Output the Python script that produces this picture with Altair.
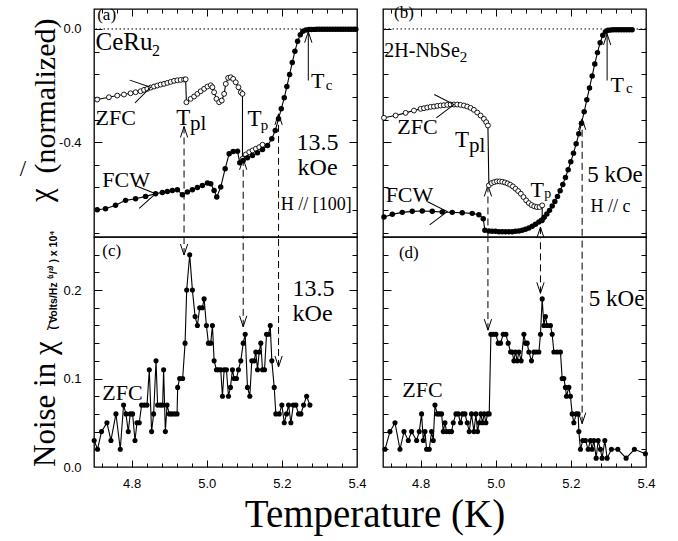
import altair as alt
import pandas as pd

SERIF = "Liberation Serif"
SANS = "Liberation Sans"

# ------------------------------------------------------------------
# Values
# ------------------------------------------------------------------
# (a) CeRu2, 13.5 kOe : chi' (normalized), ZFC (open circles)
a_zfc_T = [4.7085, 4.7397, 4.7619, 4.7797, 4.7973, 4.8107, 4.8240, 4.8331, 4.8419, 4.8507, 4.8597,
           4.8685, 4.8773, 4.8864, 4.8952, 4.9040, 4.9131, 4.9219, 4.9307, 4.9397, 4.9440,
           4.9459, 4.9573, 4.9664, 4.9752, 4.9840, 4.9931, 5.0019, 5.0107, 5.0152, 5.0197, 5.0259,
           5.0331, 5.0400, 5.0464, 5.0507, 5.0571, 5.0640, 5.0704, 5.0773, 5.0845, 5.0907, 5.0952,
           5.0952, 5.1040, 5.1131, 5.1219, 5.1307, 5.1397, 5.1485]
a_zfc_chi = [-0.2494, -0.2413, -0.2353, -0.2317, -0.2272, -0.2236, -0.2201, -0.2152, -0.2116, -0.2071, -0.2035,
             -0.2000, -0.1965, -0.1940, -0.1905, -0.1870, -0.1834, -0.1813, -0.1799, -0.1788, -0.1778,
             -0.2589, -0.2469, -0.2388, -0.2293, -0.2201, -0.2116, -0.2035, -0.1989, -0.2060, -0.2236, -0.2469,
             -0.2589, -0.2529, -0.2293, -0.1940, -0.1728, -0.1707, -0.1764, -0.1884, -0.2060, -0.2236, -0.2293,
             -0.4586, -0.4434, -0.4353, -0.4293, -0.4233, -0.4176, -0.4092]
# (a) FCW (filled circles)
a_fcw_T = [4.7085, 4.7307, 4.7573, 4.7840, 4.8107, 4.8373, 4.8640, 4.8819, 4.8952, 4.9085, 4.9219,
           4.9352, 4.9485, 4.9619, 4.9752, 4.9885, 5.0019, 5.0107, 5.0197, 5.0267, 5.0373, 5.0491,
           5.0597, 5.0704, 5.0819, 5.0880, 5.0971, 5.1085, 5.1219, 5.1352, 5.1485, 5.1619, 5.1733,
           5.1824, 5.1912, 5.1984, 5.2064, 5.2133, 5.2205, 5.2277, 5.2347, 5.2419, 5.2491, 5.2560,
           5.2640, 5.2720, 5.2790, 5.2860, 5.2930, 5.3000, 5.3070, 5.3140, 5.3210, 5.3280, 5.3350,
           5.3420, 5.3490, 5.3560, 5.3630, 5.3700, 5.3770, 5.3840, 5.3910, 5.3970]
a_fcw_chi = [-0.6385, -0.6350, -0.6230, -0.6056, -0.5997, -0.5915, -0.5820, -0.5774, -0.5739, -0.5704, -0.5680,
             -0.5855, -0.5764, -0.5680, -0.5598, -0.5527, -0.5446, -0.5467, -0.5704, -0.5940, -0.5587, -0.4938,
             -0.4409, -0.4328, -0.4317, -0.4727, -0.4645, -0.4550, -0.4469, -0.4374, -0.4257, -0.4116, -0.3880,
             -0.3587, -0.3175, -0.2822, -0.2434, -0.2035, -0.1612, -0.1189, -0.0790, -0.0437, -0.0201, -0.0085,
             -0.0035, -0.0022, -0.0018, -0.0015, -0.0014, -0.0013, -0.0012, -0.0012, -0.0011, -0.0011, -0.0010,
             -0.0010, -0.0010, -0.0010, -0.0010, -0.0010, -0.0010, -0.0010, -0.0010, -0.0010]

# (b) 2H-NbSe2, 5 kOe : ZFC
b_zfc_T = [4.7026, 4.7336, 4.7602, 4.7824,
           4.8001, 4.8090, 4.8178, 4.8267, 4.8356, 4.8444, 4.8533, 4.8621, 4.8710, 4.8799, 4.8887,
           4.8976, 4.9065, 4.9153, 4.9242, 4.9331, 4.9419, 4.9508, 4.9597, 4.9685, 4.9747, 4.9792,
           4.9818, 4.9889, 4.9960, 5.0031, 5.0102, 5.0173, 5.0244, 5.0315, 5.0386, 5.0457, 5.0527,
           5.0598, 5.0669, 5.0740, 5.0811, 5.0882, 5.0953, 5.1024, 5.1095, 5.1166, 5.1237, 5.1237]
b_zfc_chi = [-0.3140, -0.3058, -0.2964, -0.2882,
             -0.2823, -0.2800, -0.2776, -0.2752, -0.2741, -0.2717, -0.2705, -0.2694, -0.2682, -0.2670, -0.2670,
             -0.2670, -0.2682, -0.2705, -0.2741, -0.2788, -0.2858, -0.2952, -0.3058, -0.3176, -0.3293, -0.3411,
             -0.5527, -0.5445, -0.5410, -0.5386, -0.5386, -0.5398, -0.5422, -0.5457, -0.5504, -0.5563, -0.5645,
             -0.5727, -0.5821, -0.5939, -0.6056, -0.6151, -0.6221, -0.6268, -0.6292, -0.6292, -0.6233, -0.6762]
# (b) FCW
b_fcw_T = [4.7026, 4.7247, 4.7513, 4.7779, 4.8045, 4.8311, 4.8577, 4.8843, 4.9109, 4.9375, 4.9552,
           4.9668, 4.9712, 4.9818, 4.9907, 4.9996, 5.0084, 5.0173, 5.0261, 5.0350, 5.0439, 5.0527,
           5.0616, 5.0705, 5.0793, 5.0882, 5.0971, 5.1059, 5.1148, 5.1219, 5.1290, 5.1361, 5.1432,
           5.1503, 5.1574, 5.1644, 5.1715, 5.1786, 5.1857, 5.1928, 5.1999, 5.2070, 5.2141, 5.2212,
           5.2283, 5.2354, 5.2425, 5.2496, 5.2567, 5.2637, 5.2708, 5.2779, 5.2850, 5.2921, 5.2992,
           5.3063, 5.3134, 5.3205, 5.3276, 5.3347, 5.3418, 5.3489, 5.3560, 5.3631]
b_fcw_chi = [-0.6646, -0.6550, -0.6480, -0.6444, -0.6433, -0.6444, -0.6468, -0.6480, -0.6491, -0.6515, -0.6562,
             -0.6703, -0.7115, -0.7138, -0.7150, -0.7150, -0.7162, -0.7162, -0.7162, -0.7162, -0.7162, -0.7150,
             -0.7138, -0.7115, -0.7079, -0.7032, -0.6974, -0.6903, -0.6821, -0.6762, -0.6656, -0.6539, -0.6409,
             -0.6256, -0.6092, -0.5915, -0.5715, -0.5492, -0.5245, -0.4975, -0.4692, -0.4387, -0.4058, -0.3705,
             -0.3329, -0.2929, -0.2505, -0.2082, -0.1659, -0.1236, -0.0836, -0.0483, -0.0225, -0.0095, -0.0048,
             -0.0035, -0.0030, -0.0030, -0.0030, -0.0030, -0.0030, -0.0030, -0.0030, -0.0030]

# (c) CeRu2 noise, ZFC
c_T = [4.7005, 4.7094, 4.7200, 4.7344, 4.7451, 4.7584, 4.7699, 4.7787, 4.7851, 4.7912,
       4.7965, 4.8027, 4.8091, 4.8144, 4.8205, 4.8267, 4.8339, 4.8411, 4.8472, 4.8533,
       4.8587, 4.8651, 4.8693, 4.8765, 4.8827, 4.8853, 4.8899, 4.8944, 4.9005, 4.9067,
       4.9139, 4.9211, 4.9227, 4.9280, 4.9360, 4.9424,
       4.9467, 4.9547, 4.9619, 4.9691, 4.9752, 4.9813, 4.9885, 4.9931, 4.9992, 5.0045,
       5.0107, 5.0152, 5.0197, 5.0259, 5.0312, 5.0373, 5.0419, 5.0464, 5.0525, 5.0579,
       5.0632, 5.0685, 5.0731, 5.0792, 5.0845, 5.0907, 5.0971, 5.1024, 5.1085, 5.1147,
       5.1200, 5.1264, 5.1307, 5.1352, 5.1397, 5.1440, 5.1485, 5.1539, 5.1592, 5.1645,
       5.1691, 5.1733, 5.1797, 5.1840, 5.1931, 5.2000, 5.2064, 5.2125, 5.2179, 5.2240,
       5.2304, 5.2373, 5.2445, 5.2507, 5.2579, 5.2659, 5.2747]
c_noise = [0.03, 0.02, 0.04, 0.05, 0.03, 0.06, 0.02, 0.07, 0.06, 0.04,
           0.06, 0.06, 0.03, 0.05, 0.05, 0.07, 0.07, 0.07, 0.11, 0.04,
           0.06, 0.12, 0.07, 0.07, 0.07, 0.11, 0.04, 0.07, 0.06, 0.06,
           0.06, 0.06, 0.09, 0.10, 0.10, 0.14,
           0.20, 0.24, 0.20, 0.17, 0.16, 0.18, 0.18, 0.19, 0.16, 0.14,
           0.14, 0.16, 0.12, 0.11, 0.11, 0.11, 0.08, 0.11, 0.11, 0.08,
           0.09, 0.11, 0.10, 0.10, 0.11, 0.12, 0.14, 0.15, 0.09, 0.08,
           0.12, 0.12, 0.13, 0.11, 0.13, 0.14, 0.11, 0.11, 0.15, 0.15,
           0.16, 0.12, 0.09, 0.06, 0.06, 0.07, 0.05, 0.06, 0.07, 0.05,
           0.07, 0.07, 0.06, 0.06, 0.07, 0.08, 0.07]

# (d) 2H-NbSe2 noise, ZFC
d_T = [4.7053, 4.7186, 4.7319, 4.7452, 4.7559, 4.7673, 4.7761, 4.7894, 4.7965, 4.8027,
       4.8072, 4.8117, 4.8160, 4.8231, 4.8293, 4.8338, 4.8383, 4.8444, 4.8497, 4.8559,
       4.8604, 4.8649, 4.8691, 4.8763, 4.8824, 4.8870, 4.8941, 4.9003, 4.9064, 4.9117,
       4.9181, 4.9242, 4.9295, 4.9356, 4.9420, 4.9473, 4.9516, 4.9561, 4.9606, 4.9649,
       4.9694, 4.9739, 4.9782, 4.9827,
       4.9872, 4.9934, 5.0005, 5.0066, 5.0128, 5.0200, 5.0271, 5.0332, 5.0394, 5.0439,
       5.0484, 5.0527, 5.0572, 5.0617, 5.0678, 5.0750, 5.0793, 5.0838, 5.0883, 5.0952,
       5.1016, 5.1077, 5.1149, 5.1191, 5.1237, 5.1282, 5.1324, 5.1370, 5.1457, 5.1503,
       5.1548, 5.1636, 5.1723, 5.1769, 5.1814, 5.1856, 5.1883, 5.1947, 5.1989, 5.2035,
       5.2080, 5.2141, 5.2194, 5.2213, 5.2255, 5.2319, 5.2388, 5.2460, 5.2521, 5.2566,
       5.2612, 5.2673, 5.2726, 5.2787, 5.2832, 5.2904, 5.2965, 5.3080, 5.3250, 5.3471,
       5.3692, 5.3984]
d_noise = [0.02, 0.04, 0.05, 0.02, 0.04, 0.03, 0.04, 0.03, 0.04, 0.06,
           0.03, 0.04, 0.02, 0.02, 0.04, 0.03, 0.07, 0.06, 0.06, 0.06,
           0.04, 0.05, 0.04, 0.04, 0.04, 0.05, 0.06, 0.06, 0.05, 0.06,
           0.06, 0.05, 0.04, 0.06, 0.04, 0.06, 0.04, 0.05, 0.06, 0.05,
           0.06, 0.05, 0.06, 0.06,
           0.15, 0.15, 0.15, 0.14, 0.14, 0.15, 0.15, 0.14, 0.13, 0.13,
           0.12, 0.13, 0.12, 0.13, 0.12, 0.15, 0.14, 0.14, 0.13, 0.12,
           0.13, 0.13, 0.13, 0.15, 0.19, 0.16, 0.17, 0.16, 0.16, 0.15,
           0.13, 0.13, 0.13, 0.10, 0.10, 0.09, 0.08, 0.09, 0.08, 0.06,
           0.05, 0.06, 0.06, 0.04, 0.02, 0.03, 0.03, 0.02, 0.03, 0.02,
           0.03, 0.01, 0.03, 0.02, 0.01, 0.03, 0.01, 0.02, 0.02, 0.01,
           0.02, 0.015]

# Transition markers (T_pl, T_p, onset) and T_c arrows
a_arrow_T = [4.9397, 5.0971, 5.1912]
a_arrow_chi = [-0.3446, -0.4586, -0.3000]
c_arrow_noise = [0.2396, 0.1585, 0.1131]
b_arrow_T = [4.9793, 5.1191, 5.2300]
b_arrow_chi = [-0.5527, -0.7000, -0.3175]
d_arrow_noise = [0.1547, 0.1963, 0.0490]
a_tc_T, a_tc_from, a_tc_to = 5.2704, -0.182, -0.0095
b_tc_T, b_tc_from, b_tc_to = 5.2965, -0.182, -0.0176

# direction chevrons on the curves (T, chi, rotation)
a_chev_T, a_chev_chi, a_chev_ang = [4.8507, 4.8640], [-0.206, -0.582], [347, 350]
b_chev_T, b_chev_chi, b_chev_ang = [4.8888, 4.8710], [-0.267, -0.6455], [355, 355]

# annotation texts (label, T, value, font size)
a_text = [("(a)", 4.7085, 0.031, 17), ("CeRu", 4.704, -0.074, 25), ("2", 4.8545, -0.094, 16),
          ("ZFC", 4.704, -0.3376, 22), ("FCW", 4.7219, -0.5587, 22),
          ("T", 4.9192, -0.341, 23), ("pl", 4.9557, -0.357, 21),
          ("T", 5.1085, -0.3446, 23), ("p", 5.1440, -0.3587, 15),
          ("T", 5.2773, -0.2081, 22), ("c", 5.3165, -0.2152, 15),
          ("13.5", 5.2392, -0.4293, 24), ("kOe", 5.2419, -0.5175, 24),
          ("H // [100]", 5.1973, -0.641, 18)]
b_text = [("(b)", 4.7293, 0.038, 17), ("2H-NbSe", 4.7035, -0.0977, 20), ("2", 4.9040, -0.115, 15),
          ("ZFC", 4.738, -0.3704, 22), ("FCW", 4.707, -0.6116, 22),
          ("T", 4.8915, -0.4176, 23), ("pl", 4.9290, -0.433, 21),
          ("T", 5.0926, -0.594, 22), ("p", 5.1290, -0.5986, 14),
          ("T", 5.3053, -0.2236, 22), ("c", 5.3470, -0.228, 15),
          ("5 kOe", 5.2434, -0.5422, 23), ("H // c", 5.2521, -0.648, 18)]
c_text = [("(c)", 4.7219, 0.2385, 17), ("13.5", 5.2285, 0.1935, 24), ("kOe", 5.2285, 0.1650, 24),
          ("ZFC", 4.7219, 0.0754, 22)]
d_text = [("(d)", 4.7423, 0.2362, 17), ("5 kOe", 5.2479, 0.1819, 23), ("ZFC", 4.7513, 0.0792, 22)]

# axes
XDOM = [4.7, 5.4]
CHI_DOM = [-0.735, 0.0705]
NOISE_DOM = [0.0, 0.26]
X_LABELS = [4.8, 5.0, 5.2, 5.4]
X_MAJOR = [4.8, 5.0, 5.2]
X_MINOR = [4.72, 4.76, 4.84, 4.88, 4.92, 4.96, 5.04, 5.08, 5.12, 5.16, 5.24, 5.28, 5.32, 5.36]
CHI_LABELS = [-0.4, 0.0]
CHI_MAJOR = [-0.4, 0.0]
CHI_MINOR = [-0.72, -0.64, -0.56, -0.48, -0.32, -0.24, -0.16, -0.08]
NOISE_LABELS = [0.0, 0.1, 0.2]
NOISE_MAJOR = [0.1, 0.2]
NOISE_MINOR = [0.02, 0.04, 0.06, 0.08, 0.12, 0.14, 0.16, 0.18, 0.22, 0.24]

W = 263
H_TOP = 228
H_BOT = 230

UP = "M-0.33,1L0,0L0.33,1"
DOWN = "M-0.33,-1L0,0L0.33,-1"
HEAD_SIZE = 484
CHEVRON = "M-0.85,-0.53L0,0L-0.85,0.53"
LABEL_EXPR = "replace(format(datum.value, '.1f'), '\u2212', '-')"


def xsc():
    return alt.Scale(domain=XDOM, nice=False, zero=False)


def ysc(dom):
    return alt.Scale(domain=dom, nice=False, zero=False)


def enc_xy(ydom, xf="T:Q", yf="v:Q"):
    return dict(x=alt.X(xf, scale=xsc(), axis=None), y=alt.Y(yf, scale=ysc(ydom), axis=None))


def series_df(T, v):
    assert len(T) == len(v)
    return pd.DataFrame({"T": T, "v": v, "i": list(range(len(T)))})


def line_layer(T, v, ydom):
    return alt.Chart(series_df(T, v)).mark_line(color="black", strokeWidth=1.1).encode(
        order="i:Q", **enc_xy(ydom))


def dots_layer(T, v, ydom, hollow=False, size=28):
    base = alt.Chart(series_df(T, v))
    if hollow:
        m = base.mark_point(shape="circle", filled=True, fill="white", stroke="black",
                            strokeWidth=0.9, size=size, opacity=1)
    else:
        m = base.mark_circle(color="black", size=size, opacity=1)
    return m.encode(**enc_xy(ydom))


def dashed_layer(T, tips, edge, ydom):
    df = pd.DataFrame({"T": T, "v": tips, "v2": [edge] * len(T)})
    return alt.Chart(df).mark_rule(color="black", strokeWidth=1, strokeDash=[7, 4]).encode(
        y2="v2:Q", **enc_xy(ydom))


def solid_arrow(T, v_from, v_to, ydom):
    df = pd.DataFrame({"T": [T], "v": [v_to], "v2": [v_from]})
    return alt.Chart(df).mark_rule(color="black", strokeWidth=1).encode(y2="v2:Q", **enc_xy(ydom))


def heads_layer(T, tips, ydom, shape):
    df = pd.DataFrame({"T": T, "v": tips})
    return alt.Chart(df).mark_point(shape=shape, size=HEAD_SIZE, filled=False, stroke="black",
                                    strokeWidth=1, opacity=1).encode(**enc_xy(ydom))


def chevron_layer(T, v, ang, ydom):
    df = pd.DataFrame({"T": T, "v": v, "ang": ang})
    return alt.Chart(df).mark_point(shape=CHEVRON, size=1936, filled=False, stroke="black",
                                    strokeWidth=1, opacity=1).encode(
        angle=alt.Angle("ang:Q", scale=None), **enc_xy(ydom))


def text_layer(items, ydom):
    df = pd.DataFrame(items, columns=["label", "T", "v", "fs"])
    return alt.Chart(df).mark_text(font=SERIF, align="left", baseline="alphabetic", color="black").encode(
        text="label:N", size=alt.Size("fs:Q", scale=None), **enc_xy(ydom))


def zero_line():
    return alt.Chart(pd.DataFrame({"v": [0.0]})).mark_rule(
        color="black", strokeWidth=1, strokeDash=[1.5, 2.5]).encode(
        y=alt.Y("v:Q", scale=ysc(CHI_DOM), axis=None))


def ptext(txt, x, y, fs, angle=0, align="center", baseline="middle", font=SERIF, weight="normal"):
    return alt.Chart(pd.DataFrame({"k": [0]})).mark_text(
        text=txt, font=font, fontSize=fs, angle=angle, align=align, baseline=baseline,
        fontWeight=weight, color="black").encode(x=alt.value(x), y=alt.value(y))


def axis_layer(ydom, x_axis, y_axis):
    df = pd.DataFrame({"T": [XDOM[0]], "v": [ydom[0]]})
    return alt.Chart(df).mark_point(opacity=0).encode(
        x=alt.X("T:Q", scale=xsc(), axis=x_axis),
        y=alt.Y("v:Q", scale=ysc(ydom), axis=y_axis))


def tick_axis(orient, offset, values, size):
    return alt.Axis(orient=orient, offset=offset, values=values, labels=False, domain=False,
                    ticks=True, tickSize=size, tickWidth=1, tickColor="black", grid=False, title=None)


def label_axis(orient, values, pad):
    return alt.Axis(orient=orient, values=values, labels=True, ticks=False, tickSize=0, domain=False,
                    grid=False, title=None, labelFont=SANS, labelFontSize=13, labelColor="black",
                    labelPadding=pad, labelExpr=LABEL_EXPR, labelFlush=False, labelOverlap=False)


def panel(ydom, h, content, x_labels, y_labels, y_major, y_minor, ticks_top):
    layers = []
    if x_labels or y_labels:
        layers.append(axis_layer(
            ydom,
            label_axis("bottom", x_labels, 10) if x_labels else None,
            label_axis("left", y_labels, 13) if y_labels else None))
    layers += content
    xin = "bottom" if ticks_top else "top"
    layers.append(axis_layer(ydom, tick_axis(xin, -h, X_MAJOR, 7), tick_axis("right", -W, y_major, 8)))
    layers.append(axis_layer(ydom, tick_axis(xin, -h, X_MINOR, 4), tick_axis("right", -W, y_minor, 5)))
    layers.append(axis_layer(ydom, None, tick_axis("left", -W, y_major, 8)))
    layers.append(axis_layer(ydom, None, tick_axis("left", -W, y_minor, 5)))
    return alt.layer(*layers).resolve_axis(x="independent", y="independent").properties(width=W, height=h)


# ------------------------------------------------------------------
# Panels
# ------------------------------------------------------------------
pa = panel(CHI_DOM, H_TOP, [
    zero_line(),
    dashed_layer(a_arrow_T, a_arrow_chi, CHI_DOM[0], CHI_DOM),
    heads_layer(a_arrow_T, a_arrow_chi, CHI_DOM, UP),
    solid_arrow(a_tc_T, a_tc_from, a_tc_to, CHI_DOM),
    heads_layer([a_tc_T], [a_tc_to], CHI_DOM, UP),
    line_layer(a_zfc_T, a_zfc_chi, CHI_DOM),
    dots_layer(a_zfc_T, a_zfc_chi, CHI_DOM, hollow=True, size=24),
    line_layer(a_fcw_T, a_fcw_chi, CHI_DOM),
    dots_layer(a_fcw_T, a_fcw_chi, CHI_DOM, size=30),
    chevron_layer(a_chev_T, a_chev_chi, a_chev_ang, CHI_DOM),
    text_layer(a_text, CHI_DOM),
    ptext("(normalized)", -48, 87, 30, angle=270),
    ptext("\u03c7", -52, 186, 31, angle=270),
    ptext("/", -71, 160, 23, angle=0),
], None, CHI_LABELS, CHI_MAJOR, CHI_MINOR, True)

pc = panel(NOISE_DOM, H_BOT, [
    dashed_layer(a_arrow_T, c_arrow_noise, NOISE_DOM[1], NOISE_DOM),
    heads_layer(a_arrow_T, c_arrow_noise, NOISE_DOM, DOWN),
    line_layer(c_T, c_noise, NOISE_DOM),
    dots_layer(c_T, c_noise, NOISE_DOM, size=26),
    text_layer(c_text, NOISE_DOM),
    ptext("Noise in \u03c7", -48, 230, 31, angle=270, align="left"),
    ptext("/", -44, 86, 23, angle=0),
    ptext("( Volts/Hz \u207d\u00b9/\u00b2\u207e ) x 10\u2074", -40, 43, 10.5, angle=270, font=SANS, weight="bold"),
    ptext("Temperature (K)", 281, 290, 39, baseline="alphabetic"),
], X_LABELS, NOISE_LABELS, NOISE_MAJOR, NOISE_MINOR, False)

pb = panel(CHI_DOM, H_TOP, [
    zero_line(),
    dashed_layer(b_arrow_T, b_arrow_chi, CHI_DOM[0], CHI_DOM),
    heads_layer(b_arrow_T, b_arrow_chi, CHI_DOM, UP),
    solid_arrow(b_tc_T, b_tc_from, b_tc_to, CHI_DOM),
    heads_layer([b_tc_T], [b_tc_to], CHI_DOM, UP),
    line_layer(b_zfc_T, b_zfc_chi, CHI_DOM),
    dots_layer(b_zfc_T, b_zfc_chi, CHI_DOM, hollow=True, size=24),
    line_layer(b_fcw_T, b_fcw_chi, CHI_DOM),
    dots_layer(b_fcw_T, b_fcw_chi, CHI_DOM, size=30),
    chevron_layer(b_chev_T, b_chev_chi, b_chev_ang, CHI_DOM),
    text_layer(b_text, CHI_DOM),
], None, None, CHI_MAJOR, CHI_MINOR, True)

pd_ = panel(NOISE_DOM, H_BOT, [
    dashed_layer(b_arrow_T, d_arrow_noise, NOISE_DOM[1], NOISE_DOM),
    heads_layer(b_arrow_T, d_arrow_noise, NOISE_DOM, DOWN),
    line_layer(d_T, d_noise, NOISE_DOM),
    dots_layer(d_T, d_noise, NOISE_DOM, size=26),
    text_layer(d_text, NOISE_DOM),
], X_LABELS, None, NOISE_MAJOR, NOISE_MINOR, False)

chart = alt.concat(pa, pb, pc, pd_, columns=2, spacing={"row": 0, "column": 26}, bounds="flush").properties(
    padding={"left": 19, "top": 3, "right": 0, "bottom": 0}
).configure(background="white").configure_view(stroke="black", strokeWidth=1.3).configure_axis(grid=False)

chart.save("out.html", embed_options={"renderer": "svg", "actions": False})
